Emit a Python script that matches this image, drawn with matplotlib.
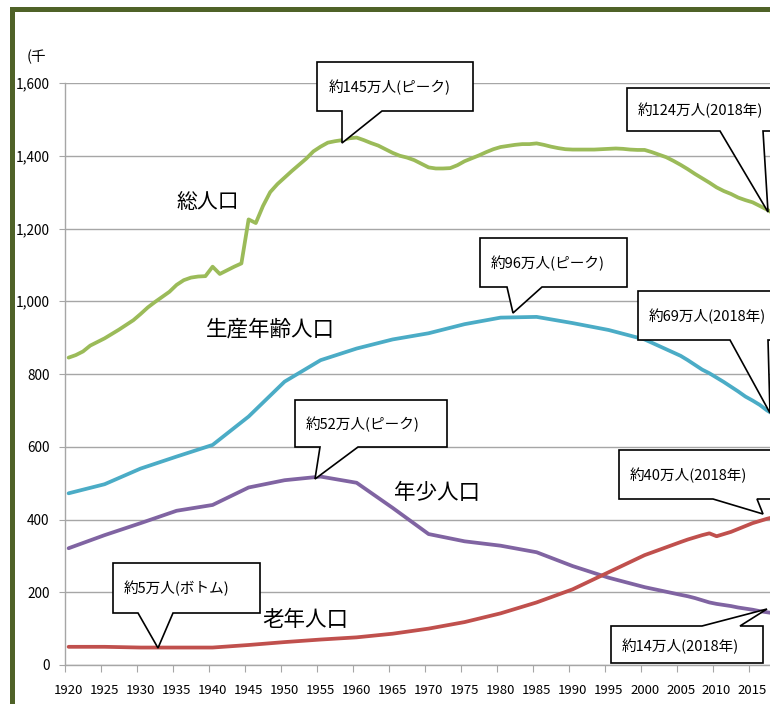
import matplotlib
matplotlib.use('Agg')
import matplotlib.pyplot as plt
from matplotlib.patches import Polygon, Rectangle

plt.rcParams['font.family'] = ['Noto Sans CJK JP', 'DejaVu Sans']

# ---------------- data (thousands of people) ----------------
total_years = list(range(1920, 2019))
total_pop = [845, 852, 862, 878, 888, 898, 910, 922, 935, 948,
             965, 983, 998, 1012, 1026, 1045, 1058, 1065, 1068, 1069,
             1095, 1075, 1085, 1095, 1104, 1225, 1215, 1262, 1300, 1322,
             1340, 1358, 1375, 1392, 1412, 1425, 1436, 1440, 1443, 1448,
             1450, 1443, 1435, 1428, 1418, 1408, 1400, 1395, 1388, 1378,
             1368, 1365, 1365, 1366, 1374, 1385, 1393, 1401, 1410, 1418,
             1424, 1427, 1430, 1432, 1432, 1434, 1430, 1425, 1421, 1418,
             1417, 1417, 1417, 1417, 1418, 1419, 1420, 1419, 1417, 1416,
             1416, 1410, 1403, 1396, 1386, 1375, 1363, 1350, 1338, 1326,
             1313, 1303, 1295, 1285, 1278, 1272, 1262, 1252, 1240]

age_years = [1920, 1925, 1930, 1935, 1940, 1945, 1950, 1955, 1960, 1965,
             1970, 1975, 1980, 1985, 1990, 1995, 2000, 2005, 2006, 2007,
             2008, 2009, 2010, 2011, 2012, 2013, 2014, 2015, 2016, 2017, 2018]
working_pop = [472, 497, 540, 573, 605, 683, 779, 838, 870, 895,
               912, 937, 955, 957, 940, 921, 895, 850, 838, 825,
               812, 802, 790, 778, 765, 752, 738, 727, 715, 700, 688]
young_pop = [321, 357, 390, 424, 440, 488, 508, 518, 501, 432,
             360, 340, 328, 310, 272, 240, 214, 193, 189, 184,
             178, 172, 168, 165, 162, 158, 155, 152, 148, 145, 142]
old_pop = [50, 50, 48, 48, 48, 55, 63, 70, 76, 86,
           100, 118, 142, 172, 208, 255, 302, 338, 345, 351,
           357, 362, 354, 360, 366, 374, 382, 390, 396, 402, 407]

xtick_labels = [str(y) for y in range(1920, 2020, 5)]
ytick_values = list(range(0, 1601, 200))

C_TOTAL = '#9BBB59'
C_WORK = '#4BACC6'
C_YOUNG = '#8064A2'
C_OLD = '#C0504D'

# ---------------- figure ----------------
W, H = 770, 704
fig = plt.figure(figsize=(W / 100, H / 100), dpi=100)


def P(x, y):
    return (x / W, 1 - y / H)


ax = fig.add_axes([65 / W, (H - 665) / H, (824.6 - 65) / W, (665 - 83) / H])
ax.set_xlim(1919.5, 2025)
ax.set_ylim(0, 1600)

for s in ['top', 'right']:
    ax.spines[s].set_visible(False)
for s in ['left', 'bottom']:
    ax.spines[s].set_color('#A6A6A6')
    ax.spines[s].set_linewidth(1)

ax.set_yticks(ytick_values)
ax.set_yticklabels([f'{v:,}' for v in ytick_values])
ax.tick_params(axis='y', length=4, color='#A6A6A6', labelsize=9.8, pad=7)

ax.set_xticks([int(l) - 0.5 for l in xtick_labels] + [2019.5])
ax.set_xticklabels([])
ax.set_xticks([int(l) for l in xtick_labels], minor=True)
ax.set_xticklabels(xtick_labels, minor=True)
ax.tick_params(axis='x', which='major', length=5, color='#A6A6A6')
ax.tick_params(axis='x', which='minor', length=0, labelsize=9.5, pad=14)

ax.yaxis.grid(True, color='#A6A6A6', lw=1)
ax.set_axisbelow(True)

lw = 2.7
ax.plot(total_years, total_pop, color=C_TOTAL, lw=lw, solid_capstyle='round', solid_joinstyle='round')
ax.plot(age_years, working_pop, color=C_WORK, lw=lw, solid_capstyle='round', solid_joinstyle='round')
ax.plot(age_years, young_pop, color=C_YOUNG, lw=lw, solid_capstyle='round', solid_joinstyle='round')
ax.plot(age_years, old_pop, color=C_OLD, lw=lw, solid_capstyle='round', solid_joinstyle='round')

# unit label
fig.text(*P(27, 57), '(千', fontsize=10.5, ha='left', va='center')

# series labels
fig.text(*P(208, 202), '総人口', fontsize=15, ha='center', va='center')
fig.text(*P(270, 330), '生産年齢人口', fontsize=15.5, ha='center', va='center')
fig.text(*P(437, 493), '年少人口', fontsize=15.5, ha='center', va='center')
fig.text(*P(305, 620), '老年人口', fontsize=15.5, ha='center', va='center')


# callouts
def callout(pts, text, tx, ty):
    poly = Polygon([P(x, y) for x, y in pts], closed=True, transform=fig.transFigure,
                   facecolor='white', edgecolor='black', lw=1.2, zorder=5)
    fig.add_artist(poly)
    fig.text(*P(tx, ty), text, fontsize=10.5, ha='left', va='center', zorder=6)


callout([(317, 62), (473, 62), (473, 111), (382, 111), (342, 143), (342, 111), (317, 111)],
        '約145万人(ピーク)', 329, 87)
callout([(627, 88), (800, 88), (800, 131), (763, 131), (768, 212), (720, 131), (627, 131)],
        '約124万人(2018年)', 638, 110)
callout([(480, 238), (627, 238), (627, 287), (542, 287), (513, 313), (507, 287), (480, 287)],
        '約96万人(ピーク)', 491, 263)
callout([(638, 291), (800, 291), (800, 340), (768, 340), (770, 413), (730, 340), (638, 340)],
        '約69万人(2018年)', 649, 316)
callout([(295, 400), (447, 400), (447, 447), (358, 447), (315, 479), (320, 447), (295, 447)],
        '約52万人(ピーク)', 306, 424)
callout([(619, 450), (800, 450), (800, 499), (757, 499), (763, 514), (713, 499), (619, 499)],
        '約40万人(2018年)', 630, 475)
callout([(611, 626), (702, 626), (767, 609), (740, 626), (763, 626), (763, 663), (611, 663)],
        '約14万人(2018年)', 622, 646)
callout([(113, 563), (260, 563), (260, 613), (173, 613), (158, 648), (138, 613), (113, 613)],
        '約5万人(ボトム)', 124, 588)

# frame border (dark olive)
fig.add_artist(Rectangle(P(10, 704), 4.5 / W, 697 / H, transform=fig.transFigure,
                         facecolor='#4F6228', edgecolor='none', zorder=10))
fig.add_artist(Rectangle(P(10, 12), (W - 10) / W, 5 / H, transform=fig.transFigure,
                         facecolor='#4F6228', edgecolor='none', zorder=10))

fig.savefig('out.png', dpi=100)
